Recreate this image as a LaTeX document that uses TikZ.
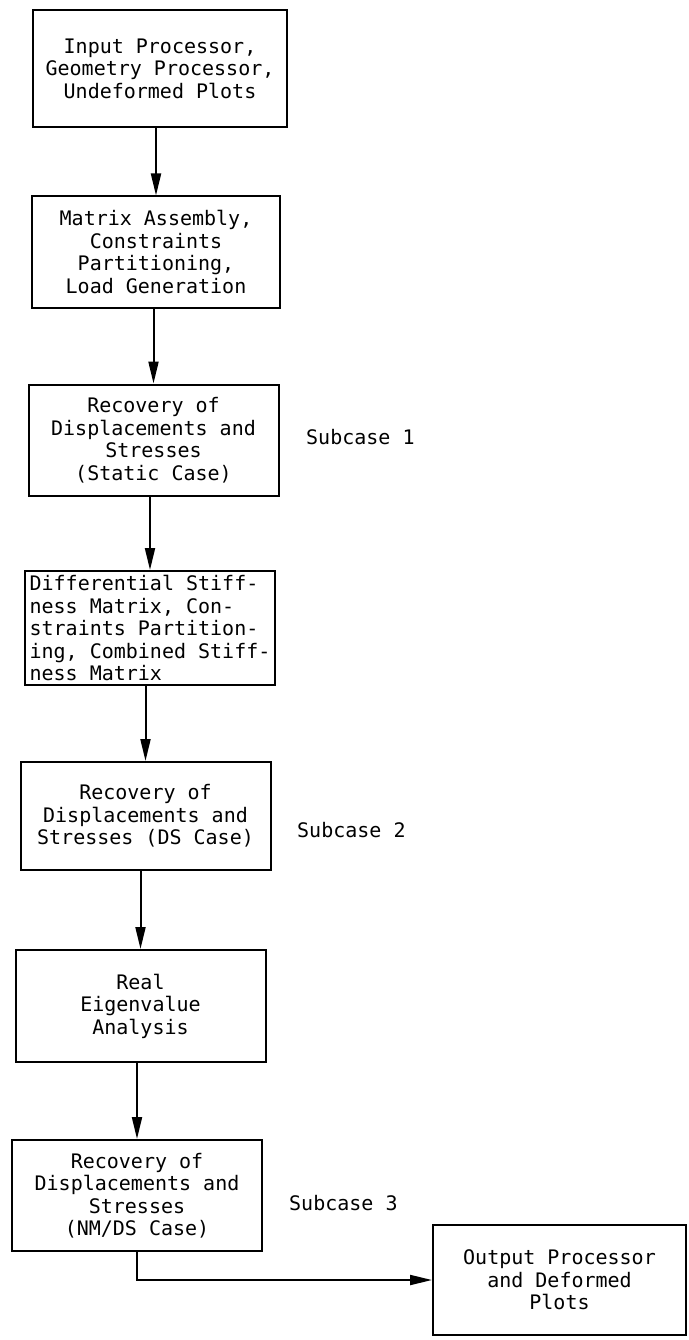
\documentclass[tikz,border=0pt]{standalone}
\usepackage{fontspec}
\setmonofont{DejaVu Sans Mono}
\usetikzlibrary{arrows.meta}
\tikzset{
    stagebox/.style={draw, line width=2pt, minimum width=250pt, minimum height=111pt,
        inner sep=3pt, align=center, font=\ttfamily\fontsize{20}{22.5}\selectfont},
    caselabel/.style={anchor=west, inner sep=0pt, font=\ttfamily\fontsize{20}{22.5}\selectfont},
    flow/.style={line width=2pt, -{Triangle[length=22pt,width=10pt]}}
}
\begin{document}
\begin{tikzpicture}[x=1pt,y=-1pt]
    \useasboundingbox (0,0) rectangle (688,1340);
    % processing chain
    \node[stagebox, minimum width=254pt, minimum height=117pt] (inproc) at (160,68.5)
        {Input Processor,\\Geometry Processor,\\Undeformed Plots};
    \node[stagebox, minimum width=248pt] (assembly) at (156,252)
        {Matrix Assembly,\\Constraints\\Partitioning,\\Load Generation};
    \node[stagebox] (static) at (153.5,440)
        {Recovery of\\Displacements and\\Stresses\\(Static Case)};
    \node[stagebox, align=left, minimum height=114pt] (diffstiff) at (150,628)
        {Differential Stiff-\\ness Matrix, Con-\\straints Partition-\\ing, Combined Stiff-\\ness Matrix};
    \node[stagebox, minimum height=108pt] (dscase) at (145.5,816)
        {Recovery of\\Displacements and\\Stresses (DS Case)};
    \node[stagebox, minimum height=112pt] (eigen) at (140.5,1006)
        {Real\\Eigenvalue\\Analysis};
    \node[stagebox] (nmds) at (137,1195.5)
        {Recovery of\\Displacements and\\Stresses\\(NM/DS Case)};
    \node[stagebox, minimum width=253pt, minimum height=110pt] (outproc) at (559.5,1280)
        {Output Processor\\and Deformed\\Plots};
    % subcase labels
    \node[caselabel] (sub1) at (306,437) {Subcase 1};
    \node[caselabel] (sub2) at (297,830) {Subcase 2};
    \node[caselabel] (sub3) at (289,1203) {Subcase 3};
    % arrows
    \draw[flow] (inproc.south -| assembly.north) -- (assembly.north);
    \draw[flow] (assembly.south -| static.north) -- (static.north);
    \draw[flow] (static.south -| diffstiff.north) -- (diffstiff.north);
    \draw[flow] (diffstiff.south -| dscase.north) -- (dscase.north);
    \draw[flow] (dscase.south -| eigen.north) -- (eigen.north);
    \draw[flow] (eigen.south -| nmds.north) -- (nmds.north);
    \draw[flow] (nmds.south) |- (outproc.west);
\end{tikzpicture}
\end{document}
